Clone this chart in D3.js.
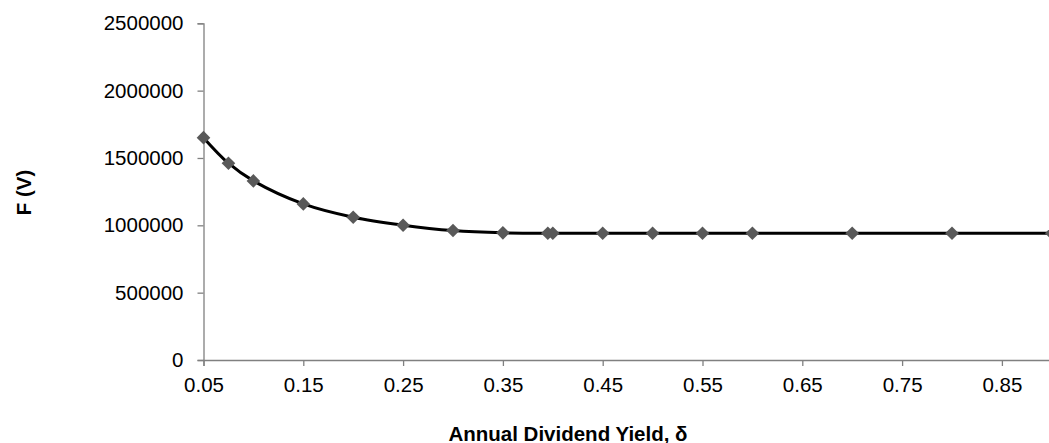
<!DOCTYPE html>
<html>
<head>
<meta charset="utf-8">
<script src="https://cdn.jsdelivr.net/npm/d3@7/dist/d3.min.js"></script>
<style>
  html, body { margin: 0; padding: 0; background: #fff; overflow: hidden; }
  svg { display: block; }
  text { font-family: "Liberation Sans", Arial, sans-serif; }
</style>
</head>
<body>
<svg id="chart" width="1049" height="443"></svg>
<script>
// Data
const dividendYield = [0.05, 0.075, 0.1, 0.15, 0.2, 0.25, 0.3, 0.35, 0.395, 0.4, 0.45, 0.5, 0.55, 0.6, 0.7, 0.8, 0.9];
const optionValue   = [1651000, 1461000, 1330000, 1159000, 1060000, 1001000, 961000, 944000, 941000, 941000, 941000, 941000, 941000, 941000, 941000, 941000, 941000];
const xTickValues = [0.05, 0.15, 0.25, 0.35, 0.45, 0.55, 0.65, 0.75, 0.85];
const yTickValues = [0, 500000, 1000000, 1500000, 2000000, 2500000];
const xTitle = "Annual Dividend Yield, \u03B4";
const yTitle = "F (V)";

const svg = d3.select("#chart");
const mLeft = 203.5, mRight = 1051.8, mTop = 23.3, mBottom = 360;

const x = d3.scaleLinear().domain([0.05, 0.9]).range([mLeft, mRight]);
const y = d3.scaleLinear().domain([0, 2500000]).range([mBottom, mTop]);

const axisColor = "#808080";
const fontSize = "20.5px";

// Y axis
const yAxis = svg.append("g")
  .attr("transform", `translate(${mLeft},0)`)
  .call(d3.axisLeft(y).tickValues(yTickValues).tickFormat(d3.format("d")).tickSize(6).tickPadding(14));
yAxis.select(".domain").attr("stroke", axisColor).attr("stroke-width", 1.3);
yAxis.selectAll(".tick line").attr("stroke", axisColor).attr("stroke-width", 1.3);
yAxis.selectAll(".tick text").attr("fill", "#000").style("font-size", fontSize)
  .style("font-family", '"Liberation Sans", Arial, sans-serif');

// X axis
const xAxis = svg.append("g")
  .attr("transform", `translate(0,${mBottom})`)
  .call(d3.axisBottom(x).tickValues(xTickValues).tickFormat(d3.format(".2f")).tickSize(6).tickPadding(11));
xAxis.select(".domain").attr("stroke", axisColor).attr("stroke-width", 1.3);
xAxis.selectAll(".tick line").attr("stroke", axisColor).attr("stroke-width", 1.3);
xAxis.selectAll(".tick text").attr("fill", "#000").style("font-size", fontSize)
  .style("font-family", '"Liberation Sans", Arial, sans-serif');

// Line
const pts = dividendYield.map((d, i) => [d, optionValue[i]]);
const line = d3.line()
  .x(d => x(d[0]))
  .y(d => y(d[1]))
  .curve(d3.curveCatmullRom.alpha(0.5));
svg.append("path")
  .datum(pts)
  .attr("fill", "none")
  .attr("stroke", "#000")
  .attr("stroke-width", 3)
  .attr("d", line);

// Diamond markers
const s = 6.8;
svg.append("g").selectAll("path")
  .data(pts)
  .join("path")
  .attr("d", d => {
    const cx = x(d[0]), cy = y(d[1]);
    return `M${cx},${cy - s}L${cx + s},${cy}L${cx},${cy + s}L${cx - s},${cy}Z`;
  })
  .attr("fill", "#595959");

// Titles
svg.append("text")
  .attr("x", 568)
  .attr("y", 441)
  .attr("text-anchor", "middle")
  .style("font-size", fontSize)
  .style("font-weight", "bold")
  .text(xTitle);

svg.append("text")
  .attr("transform", "translate(31,192.5) rotate(-90)")
  .attr("text-anchor", "middle")
  .style("font-size", fontSize)
  .style("font-weight", "bold")
  .text(yTitle);
</script>
</body>
</html>
